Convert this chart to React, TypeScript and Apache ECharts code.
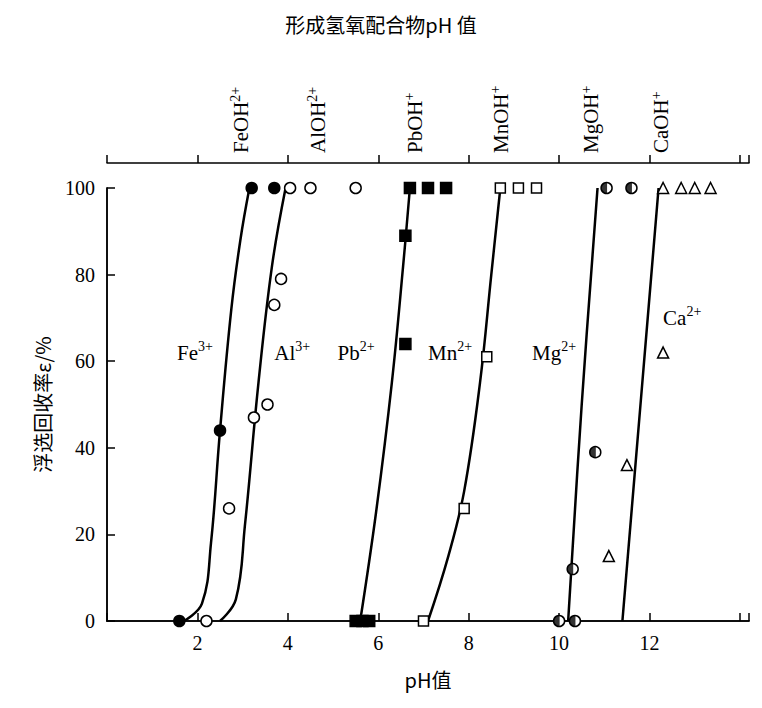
import React, { useEffect, useRef } from "react";
import * as echarts from "echarts";

const xTicks = [2, 4, 6, 8, 10, 12];
const yTicks = [0, 20, 40, 60, 80, 100];

const fePts = [[1.6, 0], [2.5, 44], [3.2, 100], [3.7, 100]];
const alPts = [[2.2, 0], [2.7, 26], [3.25, 47], [3.55, 50], [3.7, 73], [3.85, 79], [4.05, 100], [4.5, 100], [5.5, 100]];
const pbPts = [[5.5, 0], [5.65, 0], [5.8, 0], [6.6, 89], [6.6, 64], [6.7, 100], [7.1, 100], [7.5, 100]];
const mnPts = [[7.0, 0], [7.9, 26], [8.4, 61], [8.7, 100], [9.1, 100], [9.5, 100]];
const mgPts = [[10.0, 0], [10.35, 0], [10.3, 12], [10.8, 39], [11.05, 100], [11.6, 100]];
const caPts = [[11.1, 15], [11.5, 36], [12.3, 62], [12.3, 100], [12.7, 100], [13.0, 100], [13.35, 100]];

const feCurve = [[1.7, 0], [2.1, 4], [2.3, 18], [2.5, 44], [2.75, 72], [2.95, 88], [3.15, 100]];
const alCurve = [[2.5, 0], [2.85, 5], [3.05, 22], [3.35, 55], [3.65, 82], [3.95, 100]];
const pbCurve = [[5.6, 0], [5.95, 25], [6.3, 55], [6.55, 82], [6.7, 100]];
const mnCurve = [[7.1, 0], [7.55, 15], [7.9, 30], [8.25, 55], [8.5, 80], [8.7, 100]];
const mgCurve = [[10.2, 0], [10.5, 50], [10.85, 100]];
const caCurve = [[11.4, 0], [11.8, 50], [12.2, 100]];

const topLabels = [
  { x: 3.2, name: "FeOH", sup: "2+" },
  { x: 4.9, name: "AlOH", sup: "2+" },
  { x: 7.05, name: "PbOH", sup: "+" },
  { x: 8.95, name: "MnOH", sup: "+" },
  { x: 10.95, name: "MgOH", sup: "+" },
  { x: 12.5, name: "CaOH", sup: "+" },
];
const ionLabels = [
  { x: 1.55, y: 62, name: "Fe", sup: "3+" },
  { x: 3.7, y: 62, name: "Al", sup: "3+" },
  { x: 5.1, y: 62, name: "Pb", sup: "2+" },
  { x: 7.1, y: 62, name: "Mn", sup: "2+" },
  { x: 9.4, y: 62, name: "Mg", sup: "2+" },
  { x: 12.3, y: 70, name: "Ca", sup: "2+" },
];

const SERIF = "Liberation Serif";
const CJK = "Noto Sans CJK SC";
const halfPath = "path://M50,2 A48,48 0 0 0 50,98 Z";

export default function App() {
  const ref = useRef<HTMLDivElement>(null);
  useEffect(() => {
    const chart = echarts.init(ref.current!, null, { renderer: "svg" });
    const line = (data: number[][]) => ({
      type: "line", data, smooth: 0.4, symbol: "none", xAxisIndex: 0,
      lineStyle: { color: "#000", width: 2.5 }, z: 1,
    });
    const sc = (data: number[][], symbol: string, fill: string, size = 11) => ({
      type: "scatter", data, symbol, symbolSize: size, xAxisIndex: 0,
      itemStyle: { color: fill, borderColor: "#000", borderWidth: 1.5, opacity: 1 }, z: 3,
    });
    const xBase = { type: "value", min: 0, max: 14.2, interval: 2, splitLine: { show: false } };
    chart.setOption({
      animation: false,
      grid: { left: 99, right: 5, top: 180, bottom: 79 },
      xAxis: [
        { ...xBase, position: "bottom",
          axisLine: { lineStyle: { color: "#000", width: 1.5 } },
          axisTick: { inside: true, length: 8, lineStyle: { color: "#000", width: 1.5 } },
          axisLabel: { color: "#000", fontFamily: SERIF, fontSize: 20, margin: 12,
            formatter: (v: number) => (xTicks.includes(v) ? String(v) : "") },
          name: "pH值", nameLocation: "middle", nameGap: 48,
          nameTextStyle: { color: "#000", fontFamily: CJK, fontSize: 20 } },
        { ...xBase, position: "top",
          axisLine: { lineStyle: { color: "#000", width: 1.5 } },
          axisTick: { show: false }, axisLabel: { show: false } },
        { ...xBase, position: "top", offset: 25,
          axisLine: { lineStyle: { color: "#000", width: 1.5 } },
          axisTick: { length: 8, lineStyle: { color: "#000", width: 1.5 } },
          axisLabel: { show: false } },
      ],
      yAxis: [
        { type: "value", min: 0, max: 100, interval: 20, splitLine: { show: false },
          axisLine: { lineStyle: { color: "#000", width: 1.5 } },
          axisTick: { inside: true, length: 8, lineStyle: { color: "#000", width: 1.5 } },
          axisLabel: { color: "#000", fontFamily: SERIF, fontSize: 20, margin: 12,
            formatter: (v: number) => (yTicks.includes(v) ? String(v) : "") },
          name: "浮选回收率ε/%", nameLocation: "middle", nameGap: 55,
          nameTextStyle: { color: "#000", fontFamily: CJK, fontSize: 20 } },
        { type: "value", min: 0, max: 100, position: "right", splitLine: { show: false },
          axisLine: { show: true, lineStyle: { color: "#000", width: 1.5 } },
          axisTick: { show: false }, axisLabel: { show: false } },
      ],
      series: [
        line(feCurve), line(alCurve), line(pbCurve), line(mnCurve), line(mgCurve), line(caCurve),
        sc(fePts, "circle", "#000"),
        sc(alPts, "circle", "#fff"),
        sc(pbPts, "rect", "#000"),
        sc(mnPts, "rect", "#fff", 10),
        sc(mgPts, "circle", "#fff"),
        { type: "scatter", data: mgPts, symbol: halfPath, symbolSize: [6, 11], symbolOffset: [-2.5, 0],
          itemStyle: { color: "#000", borderWidth: 0 }, z: 4 },
        sc(caPts, "triangle", "#fff", 11),
      ],
    });
    const toPx = (x: number, y: number) =>
      chart.convertToPixel({ xAxisIndex: 0, yAxisIndex: 0 }, [x, y]) as unknown as number[];
    const g: any[] = [
      { type: "text", left: "center", top: 6,
        style: { text: "形成氢氧配合物pH 值", fill: "#000", font: `20px "${CJK}"` } },
    ];
    for (const t of topLabels) {
      const p = toPx(t.x, 0);
      g.push({ type: "text", x: p[0] - 11, y: 145, rotation: Math.PI / 2,
        style: { text: `{b|${t.name}}{s|${t.sup}}`, align: "left", verticalAlign: "middle",
          rich: { b: { fontFamily: SERIF, fontSize: 21, color: "#000" },
                  s: { fontFamily: SERIF, fontSize: 14, verticalAlign: "top", color: "#000", padding: [0, 0, 10, 0] } } } });
    }
    for (const t of ionLabels) {
      const p = toPx(t.x, t.y);
      g.push({ type: "text", x: p[0], y: p[1],
        style: { text: `{b|${t.name}}{s|${t.sup}}`, verticalAlign: "middle",
          rich: { b: { fontFamily: SERIF, fontSize: 21, color: "#000" },
                  s: { fontFamily: SERIF, fontSize: 14, color: "#000", verticalAlign: "top", padding: [0, 0, 12, 0] } } } });
    }
    chart.setOption({ graphic: g });
    return () => chart.dispose();
  }, []);
  return <div ref={ref} style={{ width: 746, height: 692 }} />;
}
